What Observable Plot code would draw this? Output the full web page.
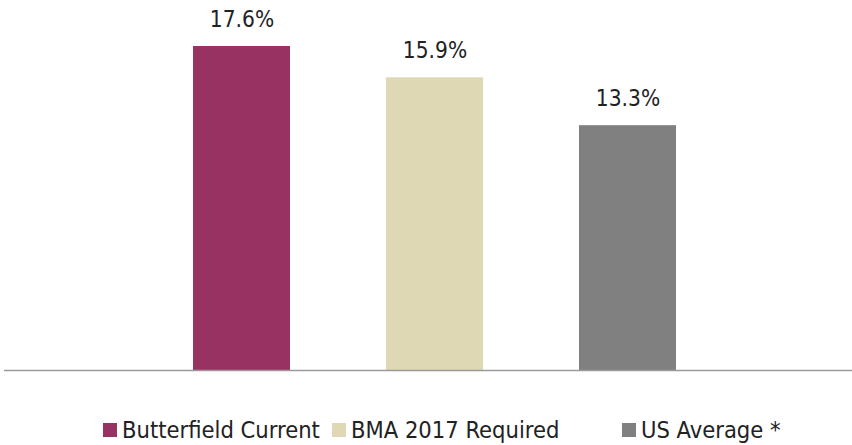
<!DOCTYPE html>
<html>
<head>
<meta charset="utf-8">
<script src="https://cdn.jsdelivr.net/npm/d3@7"></script>
<script src="https://cdn.jsdelivr.net/npm/@observablehq/plot@0.6"></script>
<style>
  html, body { margin: 0; padding: 0; background: #fff; }
  #chart { width: 852px; }
  .legend { position: relative; width: 852px; height: 30px; margin-top: 16px;
    font-family: "DejaVu Sans Condensed", sans-serif; font-size: 23.5px; color: #222; }
  .legend .item { position: absolute; top: 0; display: flex; align-items: center; white-space: nowrap; }
  .legend .sw { width: 14px; height: 14px; margin-right: 5px; }
</style>
</head>
<body>
<div id="chart"></div>
<script>
const categories = ["Butterfield Current", "BMA 2017 Required", "US Average *"];
const values = [17.6, 15.9, 13.3];
const labels = ["17.6%", "15.9%", "13.3%"];
const colors = ["#983262", "#DFD8B5", "#808080"];

const data = categories.map((c, i) => ({category: c, value: values[i], label: labels[i]}));

const plot = Plot.plot({
  width: 852,
  height: 400,
  marginTop: 0,
  marginBottom: 30,
  marginLeft: 4,
  marginRight: 0,
  style: {fontFamily: "'DejaVu Sans Condensed', sans-serif", background: "#fff"},
  x: {domain: categories, range: [96.5, 772], padding: 0.5, axis: null},
  y: {domain: [0, 20.1], axis: null},
  color: {domain: categories, range: colors},
  marks: [
    Plot.barY(data, {x: "category", y: "value", fill: "category"}),
    Plot.ruleY([0], {stroke: "#9a9a9a", strokeWidth: 1.5}),
    Plot.text(data, {x: "category", y: "value", text: "label", dy: -27, fontSize: 22.5, fill: "#222"})
  ]
});
document.getElementById("chart").appendChild(plot);

const legendLeft = [103, 332, 622];
const legend = document.createElement("div");
legend.className = "legend";
categories.forEach((c, i) => {
  const item = document.createElement("div");
  item.className = "item";
  item.style.left = legendLeft[i] + "px";
  const sw = document.createElement("span");
  sw.className = "sw";
  sw.style.background = colors[i];
  const t = document.createElement("span");
  t.textContent = c;
  item.appendChild(sw);
  item.appendChild(t);
  legend.appendChild(item);
});
document.body.appendChild(legend);
</script>
</body>
</html>
